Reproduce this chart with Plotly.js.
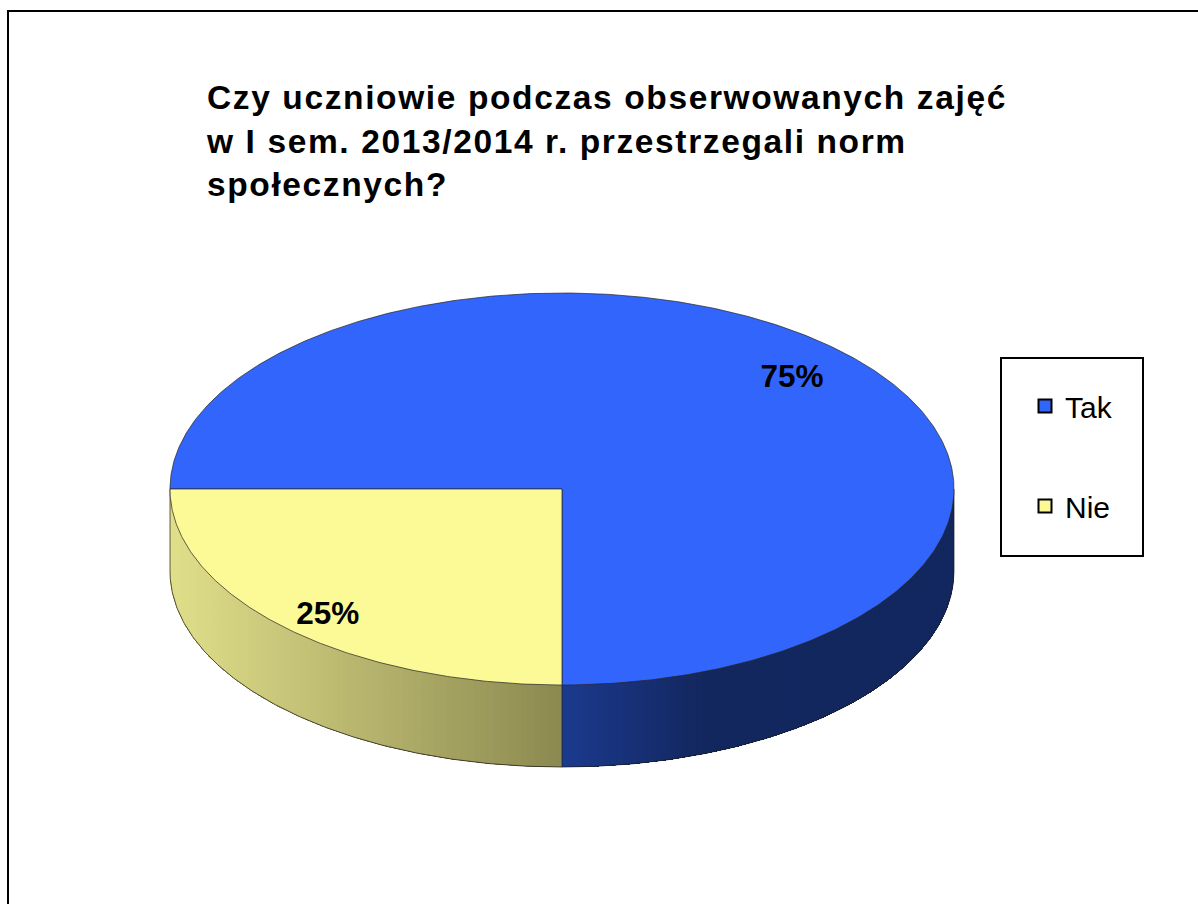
<!DOCTYPE html>
<html>
<head>
<meta charset="utf-8">
<script src="https://cdn.plot.ly/plotly-3.0.1.min.js"></script>
<style>html,body{margin:0;padding:0;background:#fff;overflow:hidden}#chart{width:1198px;height:904px}.gtitle{letter-spacing:1.62px}</style>
</head>
<body>
<div id="chart"></div>
<script>
const categories = ['Tak', 'Nie'];
const shares = [75, 25];
const chartTitle = 'Czy uczniowie podczas obserwowanych zajęć<br>w I sem. 2013/2014 r. przestrzegali norm<br>społecznych?';
const topColors = ['#3265FC', '#FCFA97'];
// wall shading: [shade at the far end, shade at the centre seam]
const wallShades = [['#13275F', '#1B3A8E'], ['#E0DF8A', '#8C8950']];
const labelReachX = [0.83, 0.845];
const labelReachY = [0.79, 0.92];

const cx = 562, cy = 489, rx = 392, ry = 196, depth = 82, rotation = 270;
const rad = d => d * Math.PI / 180;
const px = d => cx + rx * Math.sin(rad(d));
const py = (d, drop) => cy - ry * Math.cos(rad(d)) + (drop || 0);
const total = shares.reduce((a, b) => a + b, 0);

const mix = (a, b, t) => {
  const c = s => [1, 3, 5].map(i => parseInt(s.substr(i, 2), 16));
  const A = c(a), B = c(b);
  return 'rgb(' + A.map((v, i) => Math.round(v + (B[i] - v) * t)).join(',') + ')';
};

// slice angular spans, clockwise from 12 o'clock
let at = rotation;
const spans = shares.map(v => { const s = [at, at + v / total * 360]; at = s[1]; return s; });
const arc = (a, b, drop) => {
  const n = Math.max(2, Math.ceil(Math.abs(b - a) * 2)), xs = [], ys = [];
  for (let i = 0; i <= n; i++) { const d = a + (b - a) * i / n; xs.push(px(d)); ys.push(py(d, drop)); }
  return [xs, ys];
};
const traces = [];
const base = { type: 'scatter', hoverinfo: 'skip', showlegend: false };

// front wall (only the part facing the viewer: 90..270 deg); bands painted over one another so no seams show
spans.forEach((s, k) => {
  for (let m = -360; m <= 360; m += 360) {
    const a = Math.max(s[0] + m, 90), b = Math.min(s[1] + m, 270);
    if (b <= a) continue;
    const step = 1;
    for (let d = a; d < b - 1e-6; d += step) {
      const e = Math.min(d + step, b);
      const [x1, y1] = arc(d, b, 0), [x2, y2] = arc(b, d, depth);
      const dist = Math.abs((px(d) + px(e)) / 2 - cx);
      const t = k === 0 ? Math.max(0, 1 - dist / 140) : Math.max(0, 1 - dist / rx);
      const col = mix(wallShades[k][0], wallShades[k][1], t);
      traces.push(Object.assign({}, base, { x: x1.concat(x2, [x1[0]]), y: y1.concat(y2, [y1[0]]), mode: 'lines', fill: 'toself', fillcolor: col, line: { color: col, width: 0 } }));
    }
    const [bx, by] = arc(a, b, depth);
    traces.push(Object.assign({}, base, { x: bx, y: by, mode: 'lines', line: { color: 'rgba(30,30,30,0.75)', width: 1 } }));
  }
});
// side edges of the wall
[90, 180, 270].forEach(d => {
  traces.push(Object.assign({}, base, { x: [px(d), px(d)], y: [py(d, 0), py(d, depth)], mode: 'lines', line: { color: 'rgba(30,30,30,0.7)', width: 1 } }));
});
// top faces
spans.forEach((s, k) => {
  const [x, y] = arc(s[0], s[1], 0);
  traces.push(Object.assign({}, base, { x: [cx].concat(x, [cx]), y: [cy].concat(y, [cy]), mode: 'lines', fill: 'toself', fillcolor: topColors[k], line: { color: 'rgba(40,40,40,0.72)', width: 1 } }));
});
// value labels
traces.push(Object.assign({}, base, {
  x: spans.map((s, k) => cx + (px((s[0] + s[1]) / 2) - cx) * labelReachX[k]),
  y: spans.map((s, k) => cy + (py((s[0] + s[1]) / 2) - cy) * labelReachY[k]),
  text: shares.map(v => v + '%'), mode: 'text', textposition: 'middle center',
  textfont: { family: 'Liberation Sans', size: 31.5, color: '#000', weight: 'bold' }
}));
// legend entries
categories.forEach((c, k) => traces.push({
  type: 'scatter', mode: 'markers', x: [null], y: [null], name: c, legendgroup: c, hoverinfo: 'skip',
  marker: { symbol: 'square', size: 13, color: topColors[k], line: { color: '#000', width: 2 } }
}));

const layout = {
  width: 1198, height: 904, margin: { l: 0, r: 0, t: 0, b: 0 },
  paper_bgcolor: '#fff', plot_bgcolor: '#fff',
  xaxis: { range: [0, 1198], visible: false, fixedrange: true },
  yaxis: { range: [904, 0], visible: false, fixedrange: true },
  title: { text: chartTitle, x: 207 / 1198, xref: 'paper', xanchor: 'left', y: 1 - 109 / 904, yref: 'paper', yanchor: 'top',
    font: { family: 'Liberation Sans', size: 33.5, color: '#000', weight: 'bold' } },
  legend: { x: 1025 / 1198, xanchor: 'left', y: 1 - 380 / 904, yanchor: 'top', bgcolor: 'rgba(0,0,0,0)', borderwidth: 0,
    font: { family: 'Liberation Sans', size: 30, color: '#000' }, itemwidth: 30, tracegroupgap: 58, traceorder: 'grouped', itemclick: false, itemdoubleclick: false },
  shapes: [
    { type: 'path', path: 'M 8 904 L 8 11 L 1198 11', line: { color: '#000', width: 2 }, layer: 'below' },
    { type: 'rect', x0: 1001, x1: 1143, y0: 358, y1: 556, line: { color: '#000', width: 2 }, fillcolor: '#fff', layer: 'below' }
  ]
};
Plotly.newPlot('chart', traces, layout, { displayModeBar: false });
</script>
</body>
</html>
